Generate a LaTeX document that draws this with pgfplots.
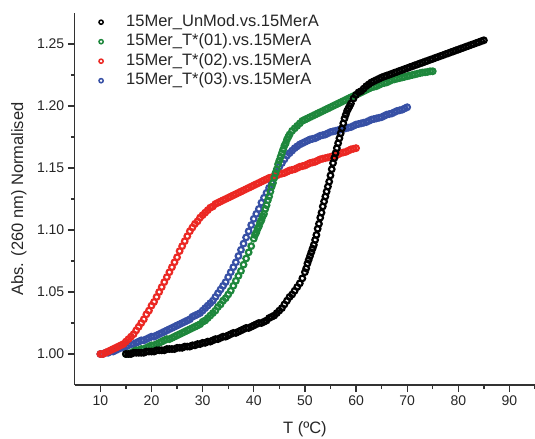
\documentclass[border=0pt]{standalone}
\usepackage{fontspec}
\setmainfont{Liberation Sans}
\usepackage{pgfplots}
\usepackage{pgfplotstable}
\pgfplotsset{compat=1.18}
\definecolor{axgray}{RGB}{50,50,50}
\definecolor{mgreen}{RGB}{30,135,60}
\definecolor{mred}{RGB}{235,40,35}
\definecolor{mblue}{RGB}{55,80,165}

% melting curves (T in degC, normalised absorbance)
\pgfplotstableread{
T A
15 1.000
15.5 1.000
16 1.000
16.5 1.001
17 1.001
17.5 1.001
18 1.001
18.5 1.001
19 1.002
19.5 1.002
20 1.002
20.5 1.002
21 1.003
21.5 1.003
22 1.003
22.5 1.003
23 1.004
23.5 1.004
24 1.004
24.5 1.004
25 1.005
25.5 1.005
26 1.005
26.5 1.006
27 1.006
27.5 1.006
28 1.007
28.5 1.007
29 1.008
29.5 1.008
30 1.009
30.5 1.009
31 1.010
31.5 1.010
32 1.011
32.5 1.012
33 1.012
33.5 1.013
34 1.014
34.5 1.014
35 1.015
35.5 1.016
36 1.017
36.5 1.017
37 1.018
37.5 1.019
38 1.020
38.5 1.021
39 1.021
39.5 1.022
40 1.023
40.5 1.024
41 1.025
41.5 1.025
42 1.026
42.5 1.027
43 1.029
43.5 1.030
44 1.031
44.5 1.033
45 1.035
45.5 1.037
46 1.040
46.5 1.043
47 1.046
47.5 1.048
48 1.051
48.5 1.054
49 1.057
49.5 1.061
50 1.066
50.25 1.069
50.5 1.073
50.75 1.076
51 1.079
51.25 1.082
51.5 1.085
51.75 1.088
52 1.092
52.25 1.096
52.5 1.101
52.75 1.105
53 1.110
53.25 1.114
53.5 1.119
53.75 1.123
54 1.127
54.25 1.131
54.5 1.135
54.75 1.139
55 1.144
55.25 1.149
55.5 1.154
55.75 1.158
56 1.162
56.25 1.166
56.5 1.170
56.75 1.174
57 1.178
57.25 1.182
57.5 1.186
57.75 1.190
58 1.193
58.25 1.196
58.5 1.198
58.75 1.200
59 1.202
59.5 1.206
60 1.209
60.5 1.211
61 1.212
61.5 1.214
62 1.216
62.5 1.2175
63 1.219
63.5 1.220
64 1.221
64.5 1.222
65 1.223
65.5 1.2238
66 1.2245
66.5 1.2252
67 1.226
67.5 1.2268
68 1.2275
68.5 1.2283
69 1.229
69.5 1.2298
70 1.2305
70.5 1.2313
71 1.232
71.5 1.2328
72 1.2335
72.5 1.2343
73 1.235
73.5 1.2358
74 1.2365
74.5 1.2373
75 1.238
75.5 1.2388
76 1.2395
76.5 1.2403
77 1.241
77.5 1.2418
78 1.2425
78.5 1.2433
79 1.244
79.5 1.2448
80 1.2455
80.5 1.2463
81 1.247
81.5 1.2478
82 1.2485
82.5 1.2493
83 1.250
83.5 1.2508
84 1.2515
84.5 1.2523
85 1.253
}\unmod

\pgfplotstableread{
T A
15 1.000
15.5 1.000
16 1.001
16.5 1.002
17 1.003
17.5 1.003
18 1.004
18.5 1.004
19 1.005
19.5 1.006
20 1.007
20.5 1.007
21 1.008
21.5 1.009
22 1.010
22.5 1.011
23 1.012
23.5 1.012
24 1.013
24.5 1.014
25 1.015
25.5 1.016
26 1.017
26.5 1.018
27 1.019
27.5 1.020
28 1.021
28.5 1.022
29 1.023
29.5 1.024
30 1.026
30.5 1.027
31 1.029
31.5 1.031
32 1.033
32.5 1.035
33 1.038
33.5 1.040
34 1.043
34.5 1.045
35 1.048
35.5 1.051
36 1.055
36.5 1.059
37 1.063
37.5 1.067
38 1.072
38.5 1.077
39 1.082
39.5 1.087
40 1.093
40.25 1.096
40.5 1.098
40.75 1.101
41 1.103
41.25 1.106
41.5 1.108
41.75 1.111
42 1.113
42.25 1.117
42.5 1.120
42.75 1.124
43 1.127
43.25 1.131
43.5 1.135
43.75 1.138
44 1.142
44.25 1.146
44.5 1.149
44.75 1.153
45 1.156
45.25 1.159
45.5 1.162
45.75 1.165
46 1.168
46.25 1.170
46.5 1.173
46.75 1.175
47 1.177
47.5 1.180
48 1.182
48.5 1.184
49 1.186
49.5 1.188
50 1.189
50.5 1.190
51 1.191
51.5 1.192
52 1.193
52.5 1.194
53 1.195
53.5 1.196
54 1.197
54.5 1.198
55 1.199
55.5 1.200
56 1.201
56.5 1.202
57 1.203
57.5 1.204
58 1.205
58.5 1.206
59 1.207
59.5 1.208
60 1.209
60.5 1.210
61 1.211
61.5 1.212
62 1.213
62.5 1.214
63 1.215
63.5 1.2155
64 1.216
64.5 1.217
65 1.218
65.5 1.2185
66 1.219
66.5 1.220
67 1.221
67.5 1.2215
68 1.222
68.5 1.2225
69 1.223
69.5 1.2235
70 1.224
70.5 1.2245
71 1.225
71.5 1.2255
72 1.226
72.5 1.2265
73 1.227
73.5 1.2272
74 1.2275
74.5 1.228
75 1.228
}\tone

\pgfplotstableread{
T A
10 1.000
10.5 1.000
11 1.001
11.5 1.002
12 1.003
12.5 1.004
13 1.005
13.5 1.006
14 1.007
14.5 1.008
15 1.010
15.5 1.012
16 1.014
16.5 1.016
17 1.019
17.5 1.022
18 1.025
18.5 1.028
19 1.032
19.5 1.035
20 1.039
20.5 1.042
21 1.046
21.5 1.050
22 1.054
22.5 1.058
23 1.062
23.5 1.066
24 1.070
24.5 1.074
25 1.078
25.5 1.083
26 1.087
26.5 1.091
27 1.095
27.5 1.099
28 1.102
28.5 1.105
29 1.107
29.5 1.110
30 1.112
30.5 1.114
31 1.116
31.5 1.118
32 1.119
32.5 1.121
33 1.122
33.5 1.123
34 1.124
34.5 1.125
35 1.126
35.5 1.127
36 1.128
36.5 1.129
37 1.130
37.5 1.131
38 1.132
38.5 1.133
39 1.134
39.5 1.135
40 1.136
40.5 1.137
41 1.138
41.5 1.139
42 1.140
42.5 1.141
43 1.142
43.5 1.1425
44 1.143
44.5 1.144
45 1.145
45.5 1.1455
46 1.146
46.5 1.147
47 1.148
47.5 1.1485
48 1.149
48.5 1.150
49 1.151
49.5 1.1515
50 1.152
50.5 1.153
51 1.154
51.5 1.1545
52 1.155
52.5 1.156
53 1.157
53.5 1.1575
54 1.158
54.5 1.1585
55 1.159
55.5 1.1595
56 1.160
56.5 1.161
57 1.162
57.5 1.1625
58 1.163
58.5 1.164
59 1.165
59.5 1.1655
60 1.166
}\ttwo

\pgfplotstableread{
T A
10 1.000
10.5 1.000
11 1.001
11.5 1.001
12 1.002
12.5 1.002
13 1.003
13.5 1.004
14 1.005
14.5 1.005
15 1.006
15.5 1.007
16 1.008
16.5 1.008
17 1.009
17.5 1.010
18 1.011
18.5 1.011
19 1.012
19.5 1.013
20 1.014
20.5 1.014
21 1.015
21.5 1.016
22 1.017
22.5 1.018
23 1.019
23.5 1.020
24 1.021
24.5 1.022
25 1.023
25.5 1.024
26 1.025
26.5 1.026
27 1.027
27.5 1.028
28 1.030
28.5 1.031
29 1.032
29.5 1.033
30 1.035
30.5 1.037
31 1.039
31.5 1.041
32 1.043
32.5 1.046
33 1.049
33.5 1.052
34 1.055
34.5 1.058
35 1.062
35.5 1.066
36 1.070
36.5 1.074
37 1.079
37.5 1.084
38 1.089
38.5 1.094
39 1.099
39.5 1.104
40 1.109
40.5 1.113
41 1.117
41.5 1.122
42 1.126
42.5 1.130
43 1.134
43.5 1.138
44 1.143
44.5 1.147
45 1.151
45.5 1.154
46 1.157
46.5 1.160
47 1.162
47.5 1.164
48 1.166
48.5 1.1675
49 1.169
49.5 1.170
50 1.171
50.5 1.172
51 1.173
51.5 1.1735
52 1.174
52.5 1.175
53 1.176
53.5 1.1765
54 1.177
54.5 1.178
55 1.179
55.5 1.1795
56 1.180
56.5 1.1805
57 1.181
57.5 1.1815
58 1.182
58.5 1.1825
59 1.183
59.5 1.184
60 1.185
60.5 1.1855
61 1.186
61.5 1.1865
62 1.187
62.5 1.188
63 1.189
63.5 1.1895
64 1.190
64.5 1.1905
65 1.191
65.5 1.192
66 1.193
66.5 1.1935
67 1.194
67.5 1.195
68 1.196
68.5 1.1965
69 1.197
69.5 1.198
70 1.199
}\tthree

\begin{document}
\begin{tikzpicture}
\begin{axis}[
    scale only axis,
    width=460.2pt, height=372pt,
    xmin=5, xmax=95, ymin=0.975, ymax=1.275,
    axis lines*=left,
    axis line style={line width=1.3pt, axgray},
    tick style={line width=1.3pt, axgray},
    tick align=outside,
    major tick length=7pt, minor tick length=4pt,
    xtick={10,20,30,40,50,60,70,80,90},
    minor xtick={15,25,35,45,55,65,75,85,95},
    ytick={1,1.05,1.1,1.15,1.2,1.25},
    minor ytick={1.025,1.075,1.125,1.175,1.225},
    /pgf/number format/assume math mode=true,
    tick label style={font=\fontsize{14}{16}\selectfont, text=black!85},
    yticklabel style={/pgf/number format/.cd, fixed, fixed zerofill, precision=2},
    xlabel={T (ºC)},
    ylabel={Abs. (260 nm) Normalised},
    label style={font=\fontsize{16.5}{19}\selectfont, text=black!85},
    xlabel style={at={(axis description cs:0.5,0)}, anchor=base, yshift=-48pt},
    ylabel style={at={([xshift=-56pt]axis description cs:0,0.5)}, anchor=center},
    every axis plot/.append style={only marks, mark=o, mark size=2.8pt, mark options={line width=2.2pt}},
    reverse legend,
    legend cell align=left,
    legend image code/.code={
        \draw[#1, only marks, mark=o, mark size=2.1pt, mark options={line width=1.5pt}] plot coordinates {(0pt,0pt)};
    },
    legend style={at={(axis description cs:0,1)}, anchor=north west,
        xshift=24pt, yshift=0pt, draw=none, fill=none, inner sep=0pt,
        font=\fontsize{16.5}{19}\selectfont, text=black!85,
        nodes={inner sep=1pt, text height=12pt, text depth=4pt},
        column sep=22pt, row sep=1.5pt},
]
\addplot[mblue] table[x=T, y=A] {\tthree};
\addlegendentry{15Mer\_T*(03).vs.15MerA}
\addplot[mred] table[x=T, y=A] {\ttwo};
\addlegendentry{15Mer\_T*(02).vs.15MerA}
\addplot[mgreen] table[x=T, y=A] {\tone};
\addlegendentry{15Mer\_T*(01).vs.15MerA}
\addplot[black] table[x=T, y=A] {\unmod};
\addlegendentry{15Mer\_UnMod.vs.15MerA}
\coordinate (ll) at (rel axis cs:0,0);
\coordinate (ur) at (rel axis cs:1,1);
\end{axis}
\pgfresetboundingbox
\path ([shift={(-74.8pt,-53pt)}]ll) rectangle ([shift={(0pt,13pt)}]ur);
\end{tikzpicture}
\end{document}
